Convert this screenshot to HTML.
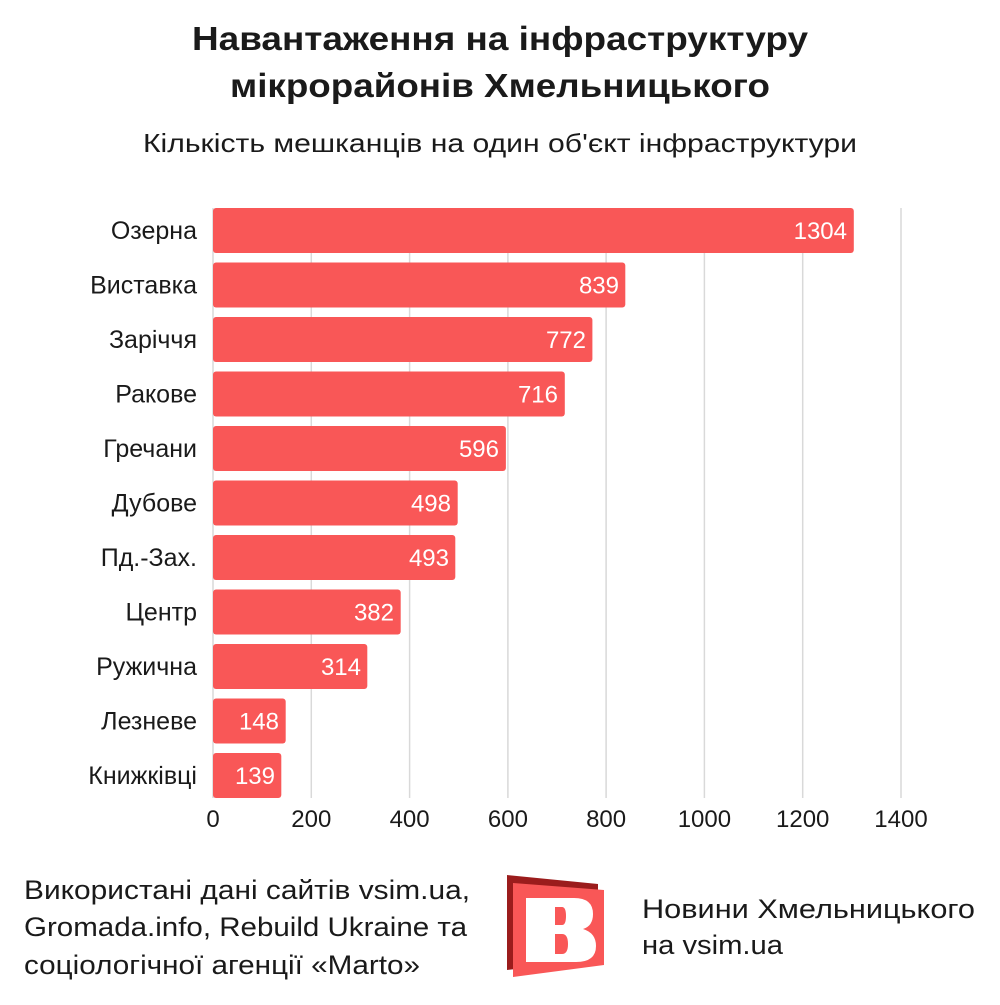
<!DOCTYPE html>
<html><head><meta charset="utf-8"><style>html,body{margin:0;padding:0;background:#fff}</style></head><body>
<svg width="1000" height="1000" viewBox="0 0 1000 1000" xmlns="http://www.w3.org/2000/svg" font-family="Liberation Sans, sans-serif" fill="#1a1a1a">
<rect width="1000" height="1000" fill="#fff"/>
<text x="500" y="50" text-anchor="middle" font-weight="bold" font-size="33" textLength="616" lengthAdjust="spacingAndGlyphs">Навантаження на інфраструктуру</text>
<text x="500" y="97" text-anchor="middle" font-weight="bold" font-size="33" textLength="540" lengthAdjust="spacingAndGlyphs">мікрорайонів Хмельницького</text>
<text x="500" y="152" text-anchor="middle" font-size="26" textLength="714" lengthAdjust="spacingAndGlyphs">Кількість мешканців на один об'єкт інфраструктури</text>
<g stroke="#d9d9d9" stroke-width="1.5">
<line x1="213" y1="208" x2="213" y2="798"/><line x1="311.3" y1="208" x2="311.3" y2="798"/><line x1="409.6" y1="208" x2="409.6" y2="798"/><line x1="507.9" y1="208" x2="507.9" y2="798"/><line x1="606.1" y1="208" x2="606.1" y2="798"/><line x1="704.4" y1="208" x2="704.4" y2="798"/><line x1="802.7" y1="208" x2="802.7" y2="798"/><line x1="901" y1="208" x2="901" y2="798"/>
</g>
<g fill="#f95757">
<rect x="213" y="208" width="640.8" height="45" rx="3"/>
<rect x="213" y="262.5" width="412.3" height="45" rx="3"/>
<rect x="213" y="317" width="379.4" height="45" rx="3"/>
<rect x="213" y="371.5" width="351.8" height="45" rx="3"/>
<rect x="213" y="426" width="292.9" height="45" rx="3"/>
<rect x="213" y="480.5" width="244.7" height="45" rx="3"/>
<rect x="213" y="535" width="242.3" height="45" rx="3"/>
<rect x="213" y="589.5" width="187.7" height="45" rx="3"/>
<rect x="213" y="644" width="154.3" height="45" rx="3"/>
<rect x="213" y="698.5" width="72.7" height="45" rx="3"/>
<rect x="213" y="753" width="68.3" height="45" rx="3"/>
</g>
<g font-size="25" text-anchor="end">
<text x="197" y="239">Озерна</text>
<text x="197" y="293.5">Виставка</text>
<text x="197" y="348">Заріччя</text>
<text x="197" y="402.5">Ракове</text>
<text x="197" y="457">Гречани</text>
<text x="197" y="511.5">Дубове</text>
<text x="197" y="566">Пд.-Зах.</text>
<text x="197" y="620.5">Центр</text>
<text x="197" y="675">Ружична</text>
<text x="197" y="729.5">Лезневе</text>
<text x="197" y="784">Книжківці</text>
</g>
<g font-size="24" text-anchor="end" fill="#fff">
<text x="847" y="239">1304</text>
<text x="619" y="293.5">839</text>
<text x="586" y="348">772</text>
<text x="558" y="402.5">716</text>
<text x="499" y="457">596</text>
<text x="451" y="511.5">498</text>
<text x="449" y="566">493</text>
<text x="394" y="620.5">382</text>
<text x="361" y="675">314</text>
<text x="279" y="729.5">148</text>
<text x="275" y="784">139</text>
</g>
<g font-size="24" text-anchor="middle">
<text x="213" y="827">0</text><text x="311.3" y="827">200</text><text x="409.6" y="827">400</text><text x="507.9" y="827">600</text><text x="606.1" y="827">800</text><text x="704.4" y="827">1000</text><text x="802.7" y="827">1200</text><text x="901" y="827">1400</text>
</g>
<g font-size="27">
<text x="24" y="899" textLength="446" lengthAdjust="spacingAndGlyphs">Використані дані сайтів vsim.ua,</text>
<text x="24" y="936" textLength="443" lengthAdjust="spacingAndGlyphs">Gromada.info, Rebuild Ukraine та</text>
<text x="24" y="974" textLength="396" lengthAdjust="spacingAndGlyphs">соціологічної агенції «Marto»</text>
<text x="642" y="918" textLength="333" lengthAdjust="spacingAndGlyphs">Новини Хмельницького</text>
<text x="642" y="954" textLength="141" lengthAdjust="spacingAndGlyphs">на vsim.ua</text>
</g>
<polygon points="507,875 598,884 598,960 507,970" fill="#9b1c1c"/>
<polygon points="513,883 604,890 604,965 513,977" fill="#f95757"/>
<path d="M526,898 H574 Q593,898 593,914 Q593,926 583,929 Q596,933 596,946 Q596,962 576,962 H526 Z M555,907 V925 H562 Q566,925 566,916 Q566,907 562,907 Z M555,934 V954 H562 Q568,954 568,944 Q568,934 562,934 Z" fill="#fff" fill-rule="evenodd"/>
</svg>
</body></html>
